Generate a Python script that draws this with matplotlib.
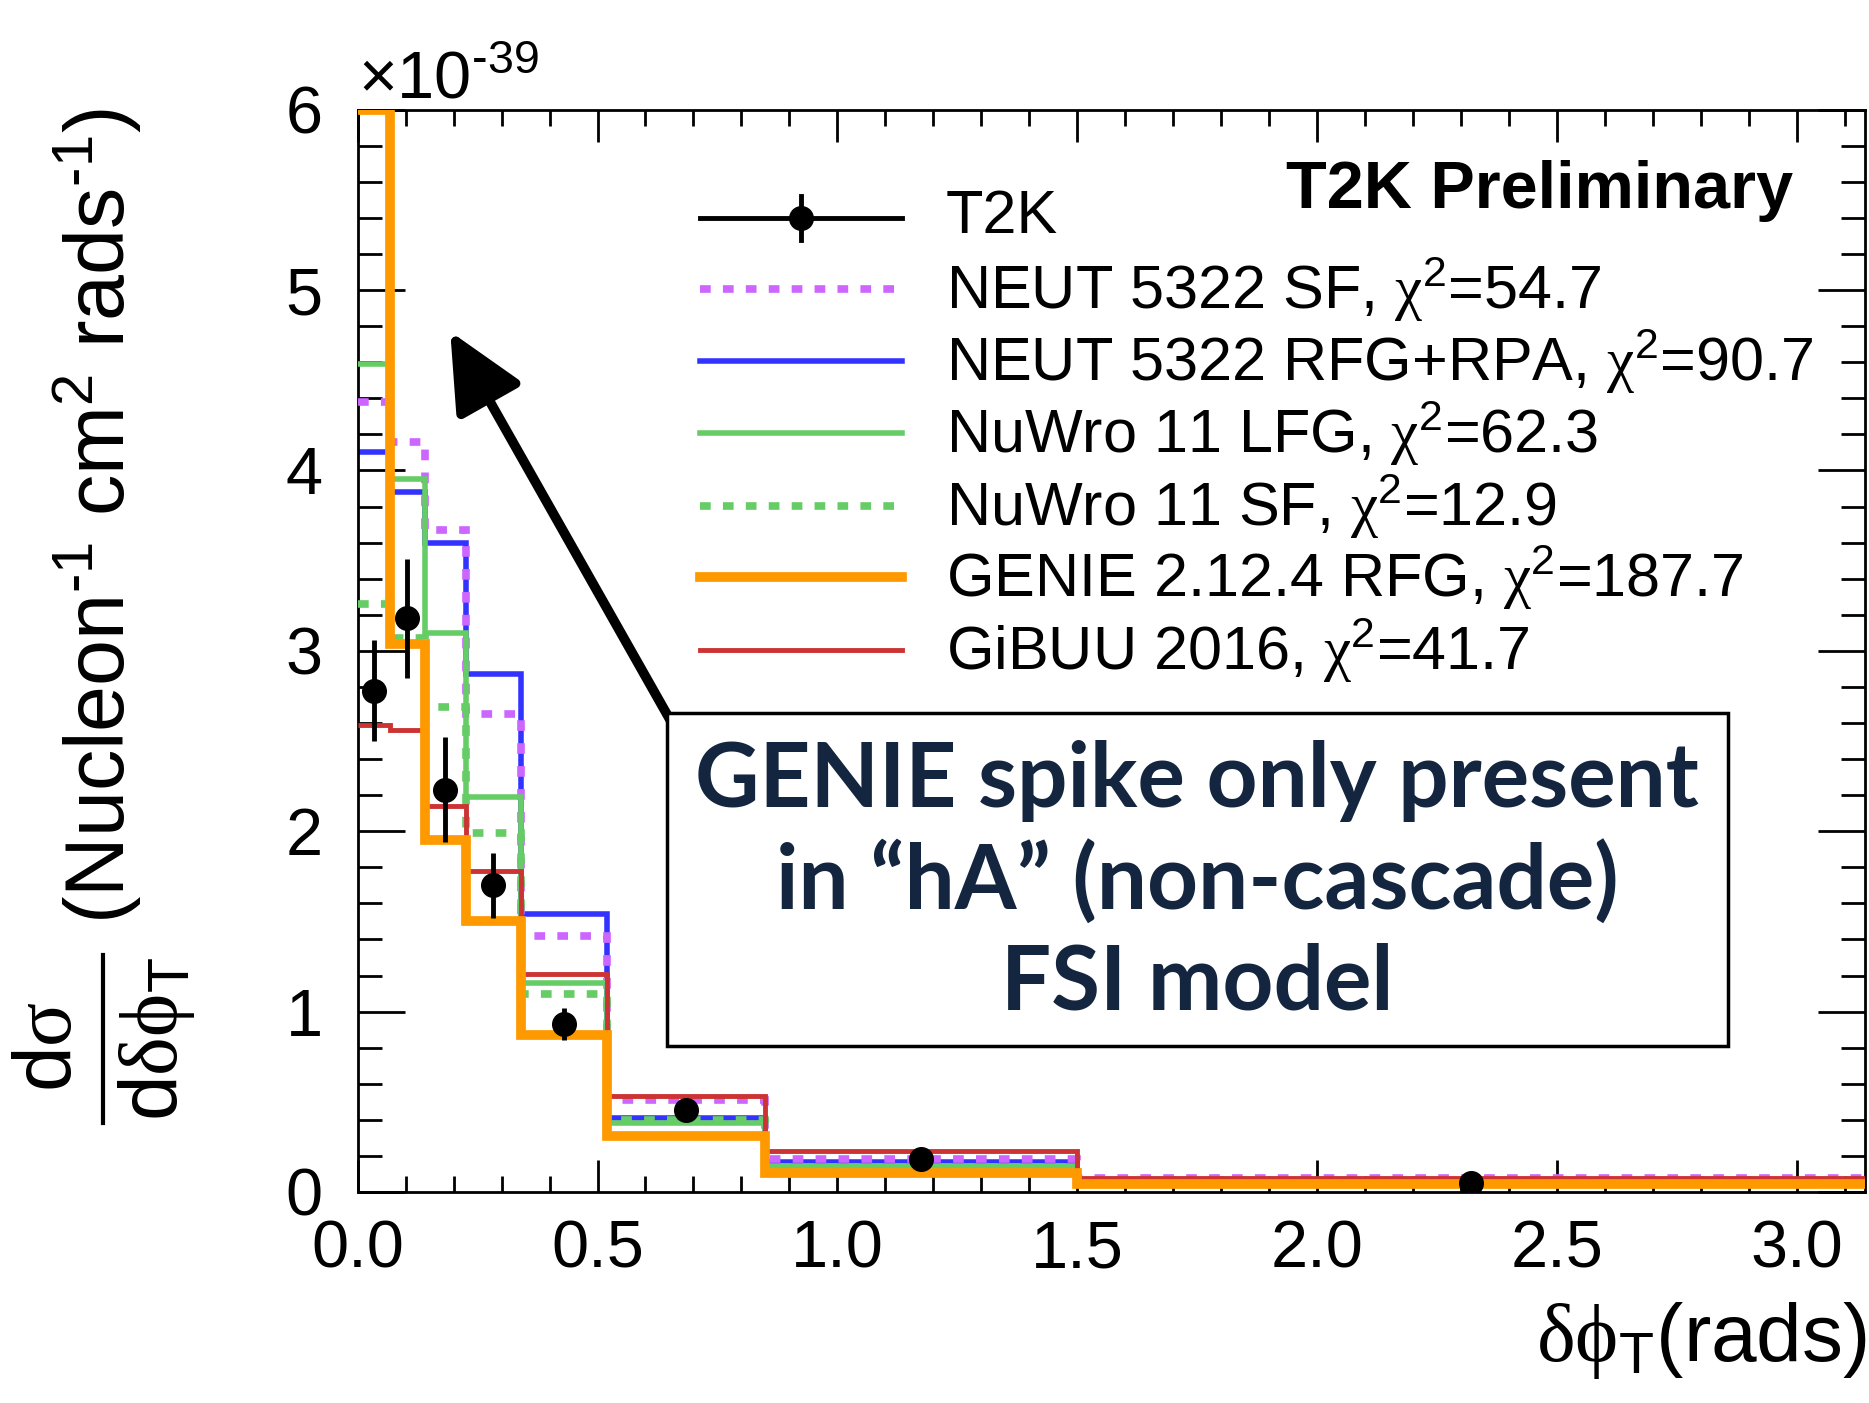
import matplotlib
matplotlib.use("Agg")
import matplotlib.pyplot as plt
import numpy as np
from matplotlib.patches import Rectangle
from matplotlib.lines import Line2D
from matplotlib.ticker import MultipleLocator, FormatStrFormatter

# ---------------- DATA (units of 1e-39) ----------------
edges = [0.0, 0.067, 0.14, 0.225, 0.34, 0.52, 0.85, 1.5, np.pi]

t2k = [2.78, 3.18, 2.23, 1.70, 0.93, 0.455, 0.185, 0.052]
t2k_err = [0.28, 0.33, 0.29, 0.18, 0.09, 0.04, 0.02, 0.01]

neut_sf = [4.38, 4.16, 3.67, 2.65, 1.42, 0.51, 0.185, 0.075]
neut_rfg = [4.10, 3.88, 3.60, 2.87, 1.54, 0.41, 0.165, 0.067]
nuwro_lfg = [4.59, 3.95, 3.10, 2.19, 1.16, 0.38, 0.145, 0.063]
nuwro_sf = [3.26, 3.07, 2.69, 1.99, 1.10, 0.40, 0.14, 0.062]
genie = [6.0, 3.04, 1.95, 1.50, 0.87, 0.31, 0.105, 0.045]
gibuu = [2.59, 2.56, 2.14, 1.78, 1.21, 0.53, 0.228, 0.08]

chi = r"$\mathsf{χ}^{\mathrm{2}}$"
labels = [
    "NEUT 5322 SF, " + chi + "=54.7",
    "NEUT 5322 RFG+RPA, " + chi + "=90.7",
    "NuWro 11 LFG, " + chi + "=62.3",
    "NuWro 11 SF, " + chi + "=12.9",
    "GENIE 2.12.4 RFG, " + chi + "=187.7",
    "GiBUU 2016, " + chi + "=41.7",
]

plt.rcParams["font.family"] = "Liberation Sans"
plt.rcParams["mathtext.fontset"] = "custom"
plt.rcParams["mathtext.rm"] = "Liberation Sans"
plt.rcParams["mathtext.it"] = "Liberation Sans:italic"
plt.rcParams["mathtext.bf"] = "Liberation Sans:bold"
plt.rcParams["mathtext.sf"] = "Liberation Serif"   # greek in ROOT symbol style

fig = plt.figure(figsize=(18.69, 14.03), dpi=100)
ax = fig.add_axes([0.1913, 0.1504, 0.8067, 0.7714])

dot = (0, (1.4, 1.6))
models = [
    (neut_sf, "#cc66ff", 5.5, dot, 3),
    (neut_rfg, "#3333ff", 4.0, "-", 2),
    (nuwro_lfg, "#66cc66", 4.0, "-", 4),
    (nuwro_sf, "#66cc66", 5.5, dot, 5),
    (genie, "#ff9900", 7.0, "-", 7),
    (gibuu, "#cc3333", 3.5, "-", 6),
]

# ---------------- HISTOGRAMS ----------------
for vals, col, lw, ls, z in models:
    ax.stairs(vals, edges, baseline=None, color=col, lw=lw, linestyle=ls, zorder=z)

# ---------------- DATA POINTS ----------------
centers = 0.5 * (np.array(edges[:-1]) + np.array(edges[1:]))
ax.errorbar(centers, t2k, yerr=t2k_err, fmt="o", color="k", ms=17,
            elinewidth=3.5, capsize=0, zorder=10)

# ---------------- AXES ----------------
ax.set_xlim(0, np.pi)
ax.set_ylim(0, 6)
ax.xaxis.set_major_locator(MultipleLocator(0.5))
ax.xaxis.set_minor_locator(MultipleLocator(0.1))
ax.yaxis.set_major_locator(MultipleLocator(1))
ax.yaxis.set_minor_locator(MultipleLocator(0.2))
ax.xaxis.set_major_formatter(FormatStrFormatter("%.1f"))
ax.yaxis.set_major_formatter(FormatStrFormatter("%d"))
ax.tick_params(which="both", direction="in", top=True, right=True, width=2,
               labelsize=48)
ax.tick_params(axis="x", which="major", length=23, pad=20)
ax.tick_params(axis="x", which="minor", length=11.5)
ax.tick_params(axis="y", which="major", length=34, pad=25)
ax.tick_params(axis="y", which="minor", length=17)
for s in ax.spines.values():
    s.set_linewidth(2)

fig.text(0.1913, 0.930, r"$\mathrm{\times 10^{\text{-39}}}$", fontsize=48,
         ha="left", va="baseline")
fig.text(0.999, 0.030, r"$\mathsf{δϕ}_{\mathrm{T}}$(rads)", fontsize=59,
         ha="right", va="baseline")

# ---------------- Y TITLE (ROOT style fraction) ----------------
fig.text(0.0525, 0.923,
         r"(Nucleon$^{\text{-1}}$ cm$^{\mathrm{2}}$ rads$^{\text{-1}}$)",
         fontsize=59.5, rotation=90, ha="center", va="top")
fig.text(0.0471, 0.2537, r"$\mathrm{d}\mathsf{σ}$", fontsize=59, rotation=90,
         ha="right", va="center")
fig.text(0.0621, 0.2594, r"$\mathrm{d}\mathsf{δϕ}_{\mathrm{T}}$", fontsize=59,
         rotation=90, ha="left", va="center")
fig.add_artist(Line2D([0.0551, 0.0551], [0.1996, 0.3193], color="k", lw=3,
                      transform=fig.transFigure))

# ---------------- LEGEND ----------------
leg_y = [0.900, 0.834, 0.768, 0.7015, 0.634, 0.568, 0.501]
ax.plot([0.227, 0.361], [leg_y[0]] * 2, transform=ax.transAxes, color="k", lw=3.5)
ax.plot([0.294], [leg_y[0]], transform=ax.transAxes, marker="o", color="k", ms=17)
ax.plot([0.294, 0.294], [leg_y[0] - 0.02, leg_y[0] + 0.02], transform=ax.transAxes,
        color="k", lw=3.5)
ax.text(0.390, leg_y[0], "T2K", transform=ax.transAxes, fontsize=44, va="center")
for (vals, col, lw, ls, z), lab, y in zip(models, labels, leg_y[1:]):
    ax.plot([0.227, 0.361], [y, y], transform=ax.transAxes, color=col, lw=lw,
            linestyle=ls, dash_capstyle="butt")
    ax.text(0.390, y, lab, transform=ax.transAxes, fontsize=44, va="center")

ax.text(0.952, 0.925, "T2K Preliminary", transform=ax.transAxes, fontsize=48,
        fontweight="bold", ha="right", va="center")

# ---------------- ANNOTATION ----------------
ax.annotate("", xy=(0.0615, 0.795), xytext=(0.2074, 0.436), xycoords="axes fraction",
            arrowprops=dict(arrowstyle="-|>,head_length=0.95,head_width=0.45",
                            mutation_scale=50, lw=7, color="k",
                            shrinkA=0, shrinkB=0), zorder=8)
ax.add_patch(Rectangle((0.205, 0.135), 0.704, 0.308, transform=ax.transAxes,
                       facecolor="white", edgecolor="k", lw=2.5, zorder=9))
note = ["GENIE spike only present", "in \u201chA\u201d (non-cascade)", "FSI model"]
for txt, y in zip(note, [0.380, 0.286, 0.193]):
    ax.text(0.557, y, txt, transform=ax.transAxes, fontsize=64, fontweight="bold",
            family="Lato", color="#14263f", ha="center", va="center", zorder=11)

fig.savefig("out.png", dpi=100)
